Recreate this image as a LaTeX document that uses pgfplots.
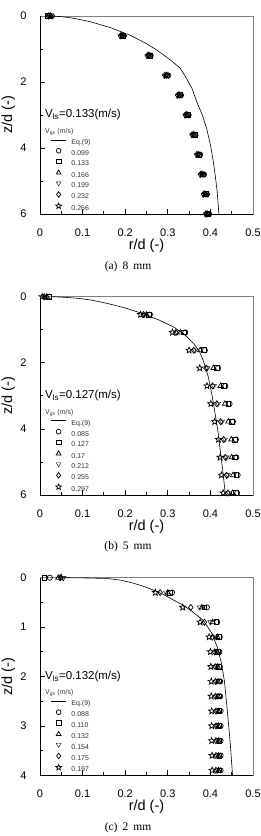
\documentclass[border=0pt]{standalone}
\usepackage{fontspec}
\setmainfont{Liberation Sans}
\newfontfamily\capfont{Liberation Serif}
\usepackage{pgfplots}
\usepackage{pgfplotstable}
\pgfplotsset{compat=1.18}
\usetikzlibrary{plotmarks}

% open five-pointed star
\pgfdeclareplotmark{ostar}{%
  \pgfpathmoveto{\pgfqpointpolar{90}{\pgfplotmarksize}}%
  \pgfpathlineto{\pgfqpointpolar{126}{0.42\pgfplotmarksize}}%
  \pgfpathlineto{\pgfqpointpolar{162}{\pgfplotmarksize}}%
  \pgfpathlineto{\pgfqpointpolar{198}{0.42\pgfplotmarksize}}%
  \pgfpathlineto{\pgfqpointpolar{234}{\pgfplotmarksize}}%
  \pgfpathlineto{\pgfqpointpolar{270}{0.42\pgfplotmarksize}}%
  \pgfpathlineto{\pgfqpointpolar{306}{\pgfplotmarksize}}%
  \pgfpathlineto{\pgfqpointpolar{342}{0.42\pgfplotmarksize}}%
  \pgfpathlineto{\pgfqpointpolar{18}{\pgfplotmarksize}}%
  \pgfpathlineto{\pgfqpointpolar{54}{0.42\pgfplotmarksize}}%
  \pgfpathclose
  \pgfusepathqstroke
}

% measured profiles: z/d and r/d for each gas velocity
% columns: c=circle, s=square, t=triangle, n=inverted triangle, d=diamond, p=star
\pgfplotstableread{
z    c     s     t     n     d     p
0.0  0.028 0.018 0.025 0.022 0.020 0.024
0.6  0.197 0.195 0.194 0.193 0.189 0.192
1.2  0.260 0.258 0.257 0.256 0.252 0.255
1.8  0.301 0.299 0.298 0.297 0.293 0.296
2.4  0.331 0.329 0.328 0.327 0.323 0.326
3.0  0.349 0.347 0.346 0.345 0.341 0.344
3.6  0.365 0.363 0.362 0.361 0.357 0.360
4.2  0.376 0.374 0.373 0.372 0.368 0.371
4.8  0.385 0.383 0.382 0.381 0.377 0.380
5.4  0.392 0.390 0.389 0.388 0.384 0.387
6.0  0.397 0.395 0.394 0.393 0.389 0.392
}\dataA

\pgfplotstableread{
z    c     s     t     n     d     p
0.00 0.022 0.020 0.016 0.012 0.010 0.005
0.54 0.258 0.255 0.250 0.245 0.243 0.236
1.08 0.341 0.338 0.330 0.322 0.319 0.311
1.62 0.387 0.384 0.376 0.364 0.361 0.350
2.16 0.418 0.415 0.407 0.393 0.390 0.375
2.70 0.435 0.432 0.424 0.408 0.405 0.392
3.24 0.445 0.442 0.434 0.418 0.415 0.401
3.78 0.453 0.450 0.442 0.427 0.424 0.410
4.32 0.460 0.457 0.449 0.434 0.431 0.419
4.86 0.461 0.458 0.450 0.438 0.435 0.423
5.40 0.464 0.461 0.453 0.441 0.438 0.426
5.94 0.463 0.460 0.452 0.444 0.441 0.430
}\dataB

\pgfplotstableread{
z    c     s     t     n     d     p
0.0  0.023 0.010 0.043 0.055 0.048 0.050
0.3  0.310 0.305 0.300 0.296 0.282 0.271
0.6  0.392 0.386 0.380 0.375 0.354 0.335
0.9  0.416 0.414 0.405 0.400 0.386 0.376
1.2  0.422 0.420 0.416 0.413 0.405 0.397
1.5  0.421 0.418 0.416 0.414 0.410 0.400
1.8  0.422 0.419 0.417 0.415 0.411 0.401
2.1  0.423 0.420 0.418 0.415 0.412 0.402
2.4  0.423 0.420 0.418 0.416 0.412 0.402
2.7  0.424 0.421 0.419 0.416 0.413 0.403
3.0  0.424 0.421 0.419 0.416 0.413 0.403
3.3  0.424 0.421 0.419 0.417 0.413 0.403
3.6  0.424 0.421 0.419 0.417 0.413 0.404
3.9  0.424 0.421 0.419 0.417 0.413 0.404
}\dataC

% Eq.(9) profiles
\pgfplotstableread{
r     z
0.027 0.00
0.050 0.02
0.075 0.06
0.117 0.17
0.165 0.35
0.211 0.58
0.245 0.80
0.274 1.03
0.305 1.32
0.329 1.58
0.342 1.85
0.357 2.20
0.368 2.60
0.381 3.00
0.391 3.40
0.400 3.90
0.407 4.42
0.412 4.90
0.416 5.33
0.420 6.00
}\eqA

\pgfplotstableread{
r     z
0.031 0.00
0.060 0.02
0.090 0.05
0.120 0.10
0.157 0.20
0.200 0.34
0.243 0.52
0.280 0.71
0.313 0.91
0.340 1.15
0.360 1.41
0.374 1.65
0.383 1.92
0.395 2.42
0.404 3.00
0.411 3.53
0.418 4.10
0.423 4.64
0.429 5.25
0.434 5.85
0.435 6.00
}\eqB

\pgfplotstableread{
r     z
0.050 0.000
0.100 0.004
0.157 0.015
0.190 0.050
0.219 0.110
0.245 0.180
0.266 0.250
0.290 0.340
0.313 0.450
0.335 0.550
0.352 0.650
0.383 0.860
0.403 1.120
0.416 1.400
0.426 1.730
0.433 2.100
0.438 2.540
0.443 3.000
0.447 3.400
0.452 4.000
}\eqC

\pgfplotsset{
  panel/.style={
    scale only axis, width=213pt, clip=false,
    xmin=0, xmax=0.5, y dir=reverse,
    xtick={0,0.1,0.2,0.3,0.4,0.5},
    minor x tick num=1, minor y tick num=1,
    tick align=inside, major tick length=5pt, minor tick length=3pt,
    xtick pos=bottom, ytick pos=left,
    axis line style={draw=black!50, line width=0.8pt},
    tick style={black, line width=0.8pt},
    /pgf/number format/assume math mode=true,
    ticklabel style={font=\fontsize{11}{11}\selectfont},
    xticklabel style={yshift=-11pt},
    yticklabel style={xshift=-10pt},
    xlabel={r/d (-)}, ylabel={z/d (-)},
    label style={font=\fontsize{14.5}{14.5}\selectfont},
    xlabel style={at={(axis description cs:0.5,-0.161)}, anchor=center},
    ylabel style={at={(axis description cs:-0.149,0.5)}, anchor=center},
    legend cell align=left,
    legend style={at={(axis description cs:0.05,0.378)}, anchor=north west,
      draw=none, fill=none, inner sep=0pt, row sep=3.0pt, column sep=5pt,
      font=\fontsize{7}{7}\selectfont, text=black!80,
      nodes={inner sep=0pt, text height=5pt, text depth=1pt}},
    after end axis/.code={
      \draw[black, line width=0.9pt] (axis description cs:0,1) -- (axis description cs:0,0) -- (axis description cs:1,0);
      \node[anchor=west, font=\fontsize{11.5}{11.5}\selectfont, inner sep=0pt] at (axis description cs:0.023,0.5) {V\textsubscript{ls}=\vls(m/s)};
      \node[anchor=west, font=\fontsize{7}{7}\selectfont, inner sep=0pt, text=black!80] at (axis description cs:0.023,0.416) {V\textsubscript{gs} (m/s)};
    },
  },
  mk/.style={only marks, mark options={draw=black, fill=none, line width=0.7pt},
    legend image code/.code={%
      \path[draw=none, fill=none] (0pt,0.5pt) -- (15pt,0.5pt) (0pt,4.5pt) -- (15pt,4.5pt);
      \path[##1, draw=none, fill=none, every mark/.append style={scale=0.92, draw=black, fill=none}] plot coordinates {(7.5pt,2.5pt)};}},
  mC/.style={mk, mark=o, mark size=2.6pt},
  mS/.style={mk, mark=square, mark size=2.4pt},
  mT/.style={mk, mark=triangle, mark size=3pt},
  mN/.style={mk, mark=triangle, mark size=3pt, mark options={rotate=180}},
  mD/.style={mk, mark=diamond, mark size=3pt},
  mP/.style={mk, mark=ostar, mark size=3.3pt},
  eqline/.style={black, line width=0.6pt, no marks,
    legend image code/.code={\draw[##1] (0pt,2.5pt) -- (15pt,2.5pt);}},
}

\begin{document}
\begin{tikzpicture}
\useasboundingbox (0pt,0pt) rectangle (260pt,-836pt);

% (a) 8 mm
\def\vls{0.133}
\begin{axis}[panel, at={(40pt,-16pt)}, anchor=north west, height=198pt,
  ymin=0, ymax=6, ytick={0,2,4,6}]
\addplot[eqline] table[x=r, y=z] {\eqA};
\addplot[mC] table[x=c, y=z] {\dataA};
\addplot[mS] table[x=s, y=z] {\dataA};
\addplot[mT] table[x=t, y=z] {\dataA};
\addplot[mN] table[x=n, y=z] {\dataA};
\addplot[mD] table[x=d, y=z] {\dataA};
\addplot[mP] table[x=p, y=z] {\dataA};
\legend{Eq.(9),0.099,0.133,0.166,0.199,0.232,0.266}
\end{axis}
\node[font=\capfont\fontsize{11.5}{11.5}\selectfont] at (128pt,-267pt) {(a)\hspace{5pt}8\hspace{5pt}mm};

% (b) 5 mm
\def\vls{0.127}
\begin{axis}[panel, at={(40pt,-296.7pt)}, anchor=north west, height=198.3pt,
  ymin=0, ymax=6, ytick={0,2,4,6}]
\addplot[eqline] table[x=r, y=z] {\eqB};
\addplot[mC] table[x=c, y=z] {\dataB};
\addplot[mS] table[x=s, y=z] {\dataB};
\addplot[mT] table[x=t, y=z] {\dataB};
\addplot[mN] table[x=n, y=z] {\dataB};
\addplot[mD] table[x=d, y=z] {\dataB};
\addplot[mP] table[x=p, y=z] {\dataB};
\legend{Eq.(9),0.085,0.127,0.17,0.212,0.255,0.297}
\end{axis}
\node[font=\capfont\fontsize{11.5}{11.5}\selectfont] at (128pt,-546.7pt) {(b)\hspace{5pt}5\hspace{5pt}mm};

% (c) 2 mm
\def\vls{0.132}
\begin{axis}[panel, at={(40pt,-577.7pt)}, anchor=north west, height=197.6pt,
  ymin=0, ymax=4, ytick={0,1,2,3,4}]
\addplot[eqline] table[x=r, y=z] {\eqC};
\addplot[mC] table[x=c, y=z] {\dataC};
\addplot[mS] table[x=s, y=z] {\dataC};
\addplot[mT] table[x=t, y=z] {\dataC};
\addplot[mN] table[x=n, y=z] {\dataC};
\addplot[mD] table[x=d, y=z] {\dataC};
\addplot[mP] table[x=p, y=z] {\dataC};
\legend{Eq.(9),0.088,0.110,0.132,0.154,0.175,0.197}
\end{axis}
\node[font=\capfont\fontsize{11.5}{11.5}\selectfont] at (128pt,-828pt) {(c)\hspace{5pt}2\hspace{5pt}mm};
\end{tikzpicture}
\end{document}
